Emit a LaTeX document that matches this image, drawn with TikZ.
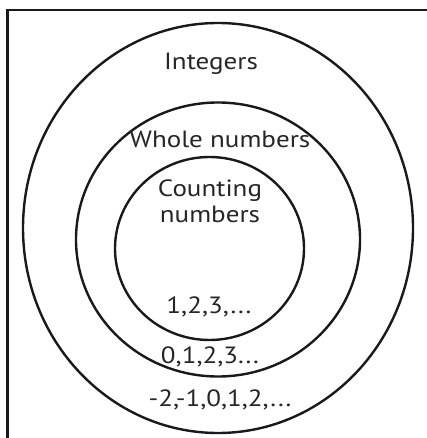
\documentclass[tikz,border=0pt]{standalone}
\usepackage{fontspec}
\setmainfont{PT Sans}[FakeStretch=1.15]
\usetikzlibrary{shapes.geometric}
\begin{document}
\begin{tikzpicture}[x=1pt,y=-1pt,
  ring/.style={draw=black!90, line width=2.4pt, ellipse, inner sep=0pt, outer sep=0pt},
  frameline/.style={draw=black!90, line width=2.8pt},
  lbl/.style={font=\fontsize{23.5}{26}\selectfont, text=black!85, inner sep=0pt, align=center}]
\useasboundingbox (0,0) rectangle (427,438);
\coordinate (fl) at (7.5,438);
\coordinate (fc) at (7.5,10);
\coordinate (fr) at (427,10);
\draw[frameline] (fl) -- (fc) -- (fr);
\node[ring, minimum width=390, minimum height=410] (outer) at (218,228) {};
\node[ring, minimum width=284, minimum height=274] (middle) at (218,239.5) {};
\node[ring, minimum width=189, minimum height=183] (inner) at (209.5,248.5) {};
\node[lbl] (int) at (211,64) {Integers};
\node[lbl] (whole) at (220,139) {Whole numbers};
\node[lbl] (cnt) at (210,201) {Counting\\numbers};
\node[lbl] (c123) at (209,307) {1,2,3,...};
\node[lbl] (w0123) at (210,357) {0,1,2,3...};
\node[lbl] (i21) at (220,400) {-2,-1,0,1,2,...};
\end{tikzpicture}
\end{document}
